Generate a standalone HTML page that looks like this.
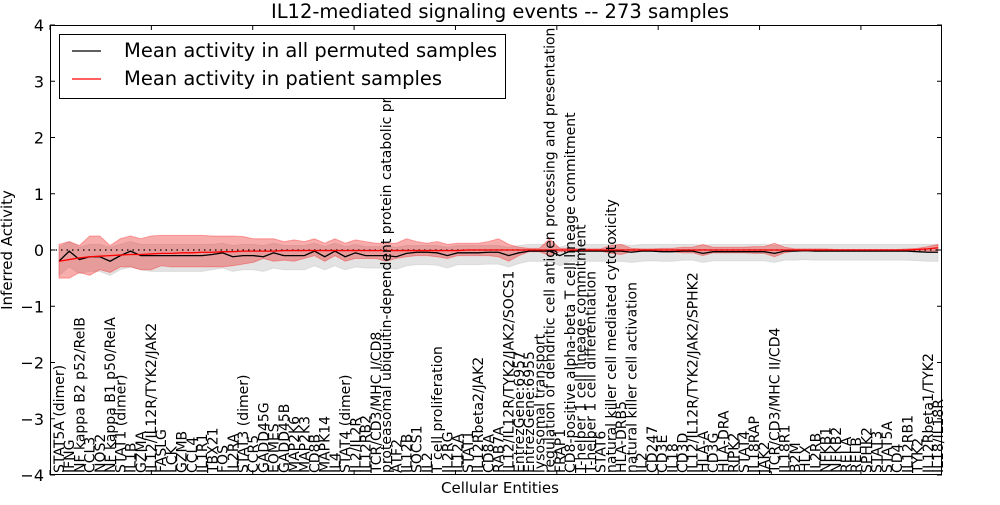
<!DOCTYPE html>
<html><head><meta charset="utf-8"><style>
html,body{margin:0;padding:0;background:#fff;}
svg{font-family:"DejaVu Sans","Liberation Sans",sans-serif;}
</style></head><body>
<svg id="chart" width="1000" height="500">
<text x="500" y="18" font-size="19.5" text-anchor="middle">IL12-mediated signaling events -- 273 samples</text>
<g id="bands"></g><g id="lines"></g><g id="axes"></g><g id="labels"></g>
<text x="500" y="493" font-size="15" text-anchor="middle">Cellular Entities</text>
<text transform="translate(12,250) rotate(-90)" font-size="15" text-anchor="middle">Inferred Activity</text>
<g>
<rect x="59.5" y="34.5" width="446" height="64" fill="#fff" stroke="#000"/>
<line x1="72" y1="51" x2="101" y2="51" stroke="#000" stroke-width="1.3"/>
<text x="124" y="57" font-size="19.5">Mean activity in all permuted samples</text>
<line x1="72" y1="79" x2="101" y2="79" stroke="#f00" stroke-width="1.3"/>
<text x="124" y="85" font-size="19.5">Mean activity in patient samples</text>
</g>
</svg>
<script>
const categories=["STAT5A (dimer)","IFNG","NF kappa B2 p52/RelB","CCL3","NOS2","NF kappa B1 p50/RelA","STAT1 (dimer)","IL1B","GZMA","IL12/IL12R/TYK2/JAK2","FASLG","LCK","GZMB","CCL4","IL1R1","TBX21","FOS","IL2RA","STAT3 (dimer)","CCR5","GADD45G","EOMES","GADD45B","MAP2K6","MAP2K3","CD8B","MAPK14","IL4","STAT4 (dimer)","IL2/IL2R","IL12RB2","TCR/CD3/MHC I/CD8","proteasomal ubiquitin-dependent protein catabolic process","ATF2","IL12B","SOCS1","IL2","T cell proliferation","IL2RG","IL12A","STAT1","IL12Rbeta2/JAK2","CD8A","RAB7A","IL12/IL12R/TYK2/JAK2/SOCS1","EntrezGene:6957","EntrezGene:6955","lysosomal transport","regulation of dendritic cell antigen processing and presentation","FRAP1","CD8-positive alpha-beta T cell lineage commitment","T-helper 1 cell lineage commitment","T-helper 1 cell differentiation","STAT6","natural killer cell mediated cytotoxicity","HLA-DRB5","natural killer cell activation","IL2","CD247","CD3E","IL18","CD3D","IL12/IL12R/TYK2/JAK2/SPHK2","HLA-A","CD3G","HLA-DRA","RIPK2","STAT4","IL18RAP","JAK2","TCR/CD3/MHC II/CD4","IL18R1","B2M","HLX","IL2RB","NFKB1","NFKB2","RELA","RELB","SPHK2","STAT3","STAT5A","CD4","IL12RB1","TYK2","IL12Rbeta1/TYK2","IL18/IL18R"];
const permMean=[-0.2,-0.02,-0.17,-0.12,-0.12,-0.2,-0.1,-0.02,-0.1,-0.1,-0.1,-0.1,-0.1,-0.1,-0.1,-0.08,-0.05,-0.12,-0.1,-0.1,-0.12,-0.05,-0.1,-0.1,-0.1,-0.02,-0.12,-0.02,-0.12,-0.05,-0.1,-0.1,-0.1,-0.12,-0.06,-0.04,-0.04,-0.05,-0.1,-0.05,-0.05,-0.05,-0.04,-0.04,-0.1,-0.05,-0.02,-0.02,-0.02,-0.1,-0.02,-0.02,-0.02,-0.02,-0.02,-0.02,-0.04,-0.02,-0.02,-0.03,-0.03,-0.02,-0.02,-0.06,-0.03,-0.03,-0.03,-0.03,-0.03,-0.03,-0.06,-0.02,-0.02,-0.01,-0.02,-0.02,-0.02,-0.02,-0.02,-0.02,-0.02,-0.02,-0.02,-0.02,-0.03,-0.04,-0.04];
const permHi=[0.05,0.15,0.05,0.1,0.1,0.05,0.1,0.15,0.1,0.1,0.1,0.1,0.1,0.1,0.1,0.1,0.12,0.08,0.1,0.1,0.08,0.12,0.08,0.08,0.08,0.12,0.06,0.12,0.06,0.1,0.06,0.06,0.06,0.05,0.08,0.08,0.08,0.08,0.05,0.08,0.08,0.08,0.08,0.08,0.05,0.08,0.1,0.1,0.1,0.05,0.1,0.1,0.1,0.1,0.1,0.1,0.08,0.1,0.1,0.1,0.1,0.1,0.1,0.08,0.1,0.1,0.1,0.1,0.1,0.1,0.08,0.1,0.1,0.1,0.1,0.1,0.1,0.1,0.1,0.1,0.1,0.1,0.1,0.1,0.1,0.1,0.1];
const permLo=[-0.45,-0.3,-0.42,-0.38,-0.38,-0.45,-0.35,-0.3,-0.35,-0.38,-0.38,-0.38,-0.38,-0.38,-0.38,-0.35,-0.32,-0.38,-0.35,-0.35,-0.38,-0.32,-0.35,-0.35,-0.35,-0.28,-0.35,-0.28,-0.35,-0.3,-0.32,-0.32,-0.32,-0.34,-0.28,-0.26,-0.26,-0.27,-0.32,-0.26,-0.26,-0.26,-0.25,-0.25,-0.3,-0.24,-0.2,-0.2,-0.2,-0.28,-0.2,-0.2,-0.2,-0.2,-0.2,-0.2,-0.22,-0.2,-0.19,-0.2,-0.2,-0.18,-0.18,-0.22,-0.19,-0.19,-0.19,-0.19,-0.19,-0.19,-0.22,-0.18,-0.18,-0.17,-0.18,-0.18,-0.18,-0.18,-0.18,-0.18,-0.18,-0.18,-0.18,-0.18,-0.19,-0.2,-0.2];
const patMean=[-0.2,-0.17,-0.14,-0.12,-0.11,-0.1,-0.09,-0.08,-0.08,-0.07,-0.06,-0.06,-0.05,-0.05,-0.04,-0.04,-0.03,-0.03,-0.02,-0.02,-0.02,-0.02,-0.01,-0.01,-0.01,-0.01,-0.01,-0.01,-0.01,-0.01,-0.01,-0.01,-0.01,-0.01,-0.01,-0.01,-0.01,-0.01,-0.01,-0.01,0,0,0,0,0,0,0,0,0,0,0,0,0,0,0,0,0,0,0,0,0,0,0,0,0,0,0,0,0,0,0,0,0,0,0,0,0,0,0,0,0,0,0,0,0.01,0.02,0.04];
const patHi=[0.1,0.15,0.08,0.25,0.25,0.08,0.2,0.25,0.2,0.25,0.26,0.26,0.26,0.26,0.26,0.25,0.25,0.25,0.24,0.2,0.2,0.2,0.15,0.18,0.15,0.2,0.12,0.2,0.12,0.18,0.15,0.12,0.12,0.12,0.2,0.15,0.12,0.15,0.1,0.12,0.12,0.12,0.15,0.2,0.1,0.05,0.03,0.03,0.2,0.03,0.03,0.02,0.02,0.02,0.08,0.1,0.03,0.02,0.02,0.03,0.03,0.05,0.05,0.1,0.05,0.05,0.05,0.05,0.06,0.06,0.12,0.05,0.02,0.02,0.02,0.02,0.01,0.01,0.01,0.01,0.01,0.01,0.01,0.02,0.03,0.06,0.1];
const patLo=[-0.5,-0.5,-0.4,-0.45,-0.35,-0.4,-0.3,-0.3,-0.35,-0.35,-0.28,-0.3,-0.3,-0.3,-0.3,-0.3,-0.3,-0.28,-0.25,-0.22,-0.15,-0.2,-0.18,-0.2,-0.15,-0.1,-0.2,-0.1,-0.2,-0.15,-0.15,-0.15,-0.2,-0.15,-0.12,-0.1,-0.1,-0.12,-0.15,-0.1,-0.1,-0.1,-0.1,-0.12,-0.2,-0.1,-0.03,-0.03,-0.1,-0.03,-0.03,-0.02,-0.02,-0.02,-0.06,-0.08,-0.03,-0.02,-0.02,-0.03,-0.03,-0.05,-0.05,-0.1,-0.05,-0.05,-0.05,-0.05,-0.06,-0.06,-0.12,-0.05,-0.02,-0.02,-0.02,-0.02,-0.01,-0.01,-0.01,-0.01,-0.01,-0.01,-0.01,-0.02,-0.02,-0.02,-0.02];
const yTicks=[4,3,2,1,0,-1,-2,-3,-4];
const yTickLabels=["4","3","2","1","0","\u22121","\u22122","\u22123","\u22124"];

const NS="http://www.w3.org/2000/svg";
const L=50,R=942,T=25,B=475,XMAX=88;
const X0=59,X1=938;
const xs=i=>X0+i*(X1-X0)/(categories.length-1);
const ys=v=>T+(4-v)*(B-T)/8;
function mk(tag,attrs,parent){const e=document.createElementNS(NS,tag);for(const k in attrs)e.setAttribute(k,attrs[k]);parent.appendChild(e);return e;}
const bands=document.getElementById('bands'),lines=document.getElementById('lines'),axes=document.getElementById('axes'),labels=document.getElementById('labels');
function bandPath(hi,lo){let d='';hi.forEach((v,i)=>{d+=(i?'L':'M')+xs(i)+','+ys(v);});for(let i=lo.length-1;i>=0;i--)d+='L'+xs(i)+','+ys(lo[i]);return d+'Z';}
function linePath(a){return a.map((v,i)=>(i?'L':'M')+xs(i)+','+ys(v)).join('');}
const gb=mk('path',{d:bandPath(permHi,permLo),fill:'#c8c8c8','fill-opacity':'0.5',stroke:'#c8c8c8','stroke-opacity':'0.5'},bands);


const rb=mk('path',{d:bandPath(patHi,patLo),fill:'#ee3333','fill-opacity':'0.4',stroke:'#f00','stroke-opacity':'0.3'},bands);


const zl=mk('line',{x1:L,x2:R,y1:ys(0),y2:ys(0),stroke:'#000','stroke-dasharray':'1.5,4','stroke-width':'1.2'},lines);


const bl=mk('path',{d:linePath(permMean),fill:'none',stroke:'#000','stroke-width':'1.3'},lines);


const rl=mk('path',{d:linePath(patMean),fill:'none',stroke:'#f00','stroke-width':'1.3'},lines);


const frame=mk('rect',{x:L+0.5,y:T+0.5,width:R-L-1,height:B-T-1,fill:'none',stroke:'#000','stroke-width':'1'},axes);


yTicks.forEach((v,i)=>{
  const y=ys(v);
  mk('line',{x1:L,x2:L+5,y1:y,y2:y,stroke:'#000'},axes);
  mk('line',{x1:R-5,x2:R,y1:y,y2:y,stroke:'#000'},axes);
  const t=mk('text',{x:L-6,y:y+6,'font-size':'16','text-anchor':'end'},axes);
  t.textContent=yTickLabels[i];
  
  
});
for(let k=0;k<=XMAX;k+=10){const x=L+k*(R-L)/XMAX;mk('line',{x1:x,x2:x,y1:T,y2:T+5,stroke:'#000'},axes);mk('line',{x1:x,x2:x,y1:B-5,y2:B,stroke:'#000'},axes);}
categories.forEach((c,i)=>{
  const x=xs(i)+5;
  const t=mk('text',{transform:'translate('+x+','+(B-2)+') rotate(-90)','font-size':'14'},labels);
  t.textContent=c;
  
  
});
</script>
</body></html>
